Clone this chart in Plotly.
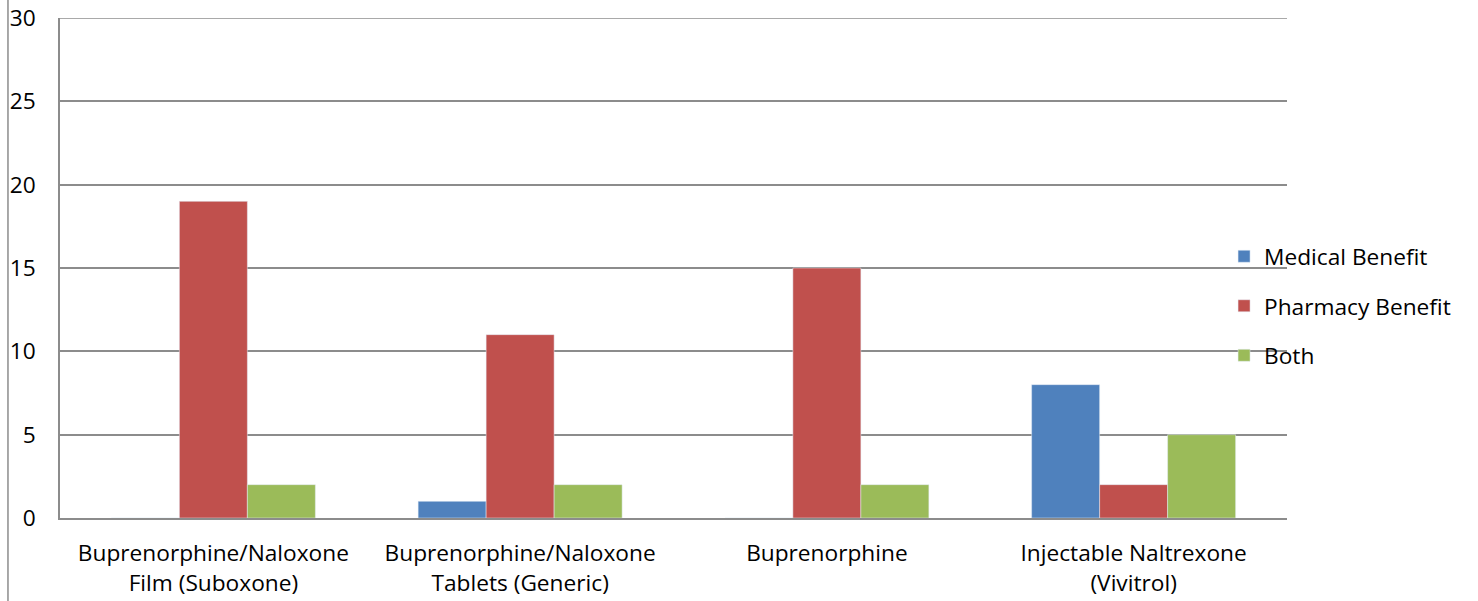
import plotly.graph_objects as go

categories = ["Buprenorphine/Naloxone<br>Film (Suboxone)",
              "Buprenorphine/Naloxone<br>Tablets (Generic)",
              "Buprenorphine",
              "Injectable Naltrexone<br>(Vivitrol)"]
medical = [0, 1, 0, 8]
pharmacy = [19, 11, 15, 2]
both = [2, 2, 2, 5]
y_ticks = [0, 5, 10, 15, 20, 25, 30]

FONT = "Open Sans"
GRID = "#8c8c8c"
FS = 22.7

fig = go.Figure()
fig.add_trace(go.Bar(name="Medical Benefit", x=categories, y=medical, marker_color="#4f81bd", legendgroup="a"))
fig.add_trace(go.Bar(name="Pharmacy Benefit", x=categories, y=pharmacy, marker_color="#c0504d", legendgroup="b"))
fig.add_trace(go.Bar(name="Both", x=categories, y=both, marker_color="#9bbb59", legendgroup="c"))

fig.update_layout(
    width=1478, height=601,
    margin=dict(l=60, r=191, t=18, b=83, autoexpand=False),
    paper_bgcolor="white", plot_bgcolor="white",
    barmode="group", bargap=0.335, bargroupgap=0,
    font=dict(family=FONT, size=FS, color="black"),
    legend=dict(x=0.9487, xanchor="left", y=0.424, yanchor="middle",
                font=dict(size=FS), itemwidth=30, tracegroupgap=17,
                bgcolor="rgba(0,0,0,0)"),
    showlegend=True,
)
fig.update_xaxes(showline=True, linecolor=GRID, linewidth=1.5, showgrid=False,
                 ticks="", ticklabelstandoff=14, tickfont=dict(size=FS), automargin=False,
                 ticklabeloverflow="allow", fixedrange=True)
fig.update_yaxes(range=[0, 30], tickvals=y_ticks, showgrid=True, gridcolor=GRID, gridwidth=1.5,
                 showline=True, linecolor=GRID, linewidth=1.5, zeroline=False, automargin=False,
                 ticks="", ticklabelstandoff=18, tickfont=dict(size=FS), ticklabeloverflow="allow")
fig.add_shape(type="line", xref="paper", yref="y", x0=0, x1=1, y0=30, y1=30,
              line=dict(color=GRID, width=1.5))
fig.add_shape(type="line", xref="paper", yref="paper", x0=-0.0424, x1=-0.0424,
              y0=-0.17, y1=1.036, line=dict(color=GRID, width=1.5))

fig.write_html("out.html", config={"displayModeBar": False},
               post_script="document.body.style.margin='0';document.body.style.overflow='hidden';")
